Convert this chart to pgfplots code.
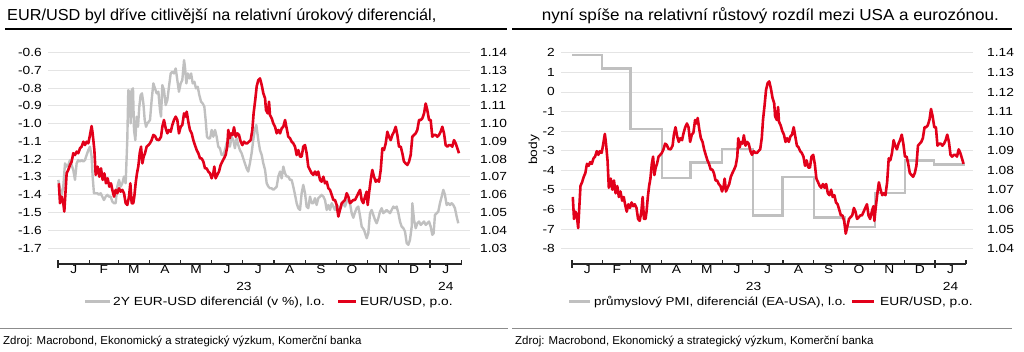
\documentclass[border=0pt]{standalone}
\usepackage{fontspec}
\setmainfont{Liberation Sans}
\newfontfamily\widef[FakeStretch=1.17]{Liberation Sans}
\newfontfamily\titlef[FakeStretch=1.07]{Liberation Sans}
\newfontfamily\titlefl[FakeStretch=1.02]{Liberation Sans}
\usepackage{pgfplots}
\pgfplotsset{compat=1.18}
\usepackage{pgfplotstable}
\definecolor{kbred}{RGB}{226,0,26}
\definecolor{lgray}{RGB}{192,192,192}
\definecolor{gridc}{RGB}{228,228,228}
\definecolor{axc}{RGB}{40,40,40}
\definecolor{footc}{RGB}{140,140,140}
\newcommand{\lblfont}{\widef\fontsize{11.8}{13}\selectfont}

\pgfplotstableread{
day val
0.8 1.0664
2.0 1.0552
3.6 1.0589
5.2 1.0552
6.2 1.0505
8.5 1.0720
10.1 1.0739
11.8 1.0767
13.4 1.0786
15.0 1.0833
16.7 1.0823
18.3 1.0842
19.9 1.0833
21.6 1.0861
23.2 1.0870
24.9 1.0898
26.5 1.0879
28.1 1.0898
29.8 1.0889
31.1 1.0926
33.0 1.0986
34.0 1.0945
35.7 1.0851
37.0 1.0711
38.9 1.0758
40.6 1.0701
42.2 1.0748
43.8 1.0683
45.5 1.0720
47.1 1.0664
48.7 1.0692
50.4 1.0645
52.0 1.0664
53.3 1.0627
55.0 1.0589
56.6 1.0627
58.2 1.0608
59.9 1.0636
61.5 1.0617
63.1 1.0627
64.8 1.0608
66.4 1.0552
68.0 1.0542
69.7 1.0589
71.0 1.0664
72.3 1.0552
73.9 1.0552
74.9 1.0589
76.2 1.0664
77.5 1.0720
78.8 1.0758
80.2 1.0833
81.5 1.0870
82.8 1.0776
84.1 1.0814
85.4 1.0833
87.0 1.0870
88.7 1.0879
90.3 1.0889
91.9 1.0907
93.6 1.0936
95.2 1.0930
96.9 1.0910
99.1 1.0907
101.1 1.0926
102.4 1.0982
104.0 1.1020
105.7 1.0973
107.3 1.0945
108.9 1.0964
110.6 1.0954
112.2 1.0992
113.8 1.1020
115.5 1.1039
117.1 1.1020
118.7 1.0945
120.4 1.0982
122.0 1.0992
123.7 1.1057
125.3 1.1039
126.3 1.1067
127.9 1.1010
129.5 1.0964
131.2 1.0945
132.8 1.0907
134.4 1.0879
136.1 1.0851
137.7 1.0833
139.4 1.0804
141.0 1.0804
142.6 1.0786
144.3 1.0748
145.9 1.0748
147.5 1.0730
149.2 1.0720
150.8 1.0692
152.4 1.0720
153.4 1.0758
154.7 1.0692
156.3 1.0711
158.0 1.0730
159.6 1.0767
161.2 1.0786
162.9 1.0804
164.5 1.0823
166.1 1.0870
167.1 1.0964
168.5 1.0917
169.8 1.0945
171.4 1.0936
172.7 1.0979
174.4 1.0926
176.0 1.0945
177.6 1.0936
179.3 1.0898
180.9 1.0879
182.5 1.0898
184.2 1.0889
185.8 1.0889
187.4 1.0898
189.1 1.0907
190.7 1.0964
192.0 1.1060
193.5 1.1130
195.0 1.1210
196.6 1.1245
198.2 1.1254
199.9 1.1217
201.5 1.1170
203.2 1.1142
204.1 1.1076
205.8 1.1057
207.1 1.1123
208.0 1.1048
209.7 1.1029
211.3 1.1001
213.0 1.0982
214.6 1.0945
216.2 1.0964
217.9 1.0945
219.5 1.0973
221.1 1.0982
222.8 1.1020
224.4 1.0973
226.0 1.0926
227.7 1.0917
229.3 1.0898
230.9 1.0889
232.6 1.0870
234.2 1.0823
235.8 1.0851
237.5 1.0814
239.1 1.0814
240.7 1.0870
242.4 1.0879
244.0 1.0833
245.6 1.0758
247.3 1.0739
249.0 1.0720
250.5 1.0711
252.2 1.0730
253.8 1.0711
255.4 1.0730
257.1 1.0683
258.7 1.0673
260.4 1.0701
262.0 1.0664
263.7 1.0673
265.3 1.0636
266.9 1.0627
268.6 1.0599
270.2 1.0570
271.8 1.0570
273.5 1.0542
275.1 1.0477
276.7 1.0514
278.4 1.0552
280.0 1.0561
281.6 1.0570
283.3 1.0608
284.9 1.0589
286.5 1.0552
288.2 1.0561
289.8 1.0570
291.4 1.0570
293.1 1.0589
294.7 1.0608
296.4 1.0627
298.0 1.0570
299.6 1.0552
301.3 1.0589
302.9 1.0617
303.9 1.0542
305.2 1.0608
306.9 1.0683
308.4 1.0739
310.1 1.0701
311.8 1.0673
313.3 1.0683
315.0 1.0673
316.7 1.0739
318.3 1.0861
319.9 1.0851
321.6 1.0889
323.2 1.0954
324.8 1.0926
326.5 1.0907
328.1 1.0936
329.7 1.0954
331.4 1.0982
333.0 1.0936
334.6 1.0870
336.3 1.0870
337.9 1.0833
339.5 1.0786
341.2 1.0776
342.8 1.0767
344.5 1.0786
346.1 1.0823
347.7 1.0926
349.4 1.0936
351.0 1.0945
352.6 1.0964
354.3 1.1020
355.9 1.1020
357.5 1.1029
359.2 1.1057
360.8 1.1113
362.4 1.1076
364.1 1.1020
365.7 1.1020
367.3 1.0926
369.0 1.0936
370.6 1.0936
372.2 1.0926
373.9 1.0936
375.5 1.0954
377.1 1.0982
378.8 1.0945
380.4 1.0879
382.0 1.0870
383.7 1.0879
385.3 1.0879
386.9 1.0870
388.6 1.0907
390.2 1.0889
391.9 1.0861
393.5 1.0833
}\eurusd

\pgfplotstableread{
day val
0.3 -1.317
2.0 -1.373
3.6 -1.401
5.2 -1.355
6.9 -1.224
8.5 -1.242
10.1 -1.233
11.8 -1.205
13.4 -1.233
15.0 -1.261
16.7 -1.317
18.3 -1.224
19.9 -1.205
21.6 -1.214
23.2 -1.205
24.9 -1.214
26.5 -1.205
28.1 -1.177
29.8 -1.149
31.4 -1.130
33.0 -1.186
34.0 -1.298
35.3 -1.392
37.0 -1.392
38.6 -1.392
40.2 -1.401
41.9 -1.392
43.5 -1.411
45.1 -1.430
46.8 -1.411
48.4 -1.401
50.0 -1.411
51.7 -1.411
53.3 -1.439
55.0 -1.448
56.6 -1.448
58.2 -1.355
59.9 -1.317
61.5 -1.355
63.1 -1.336
64.8 -1.298
66.4 -1.336
68.0 -1.093
69.0 -0.812
70.3 -0.830
71.3 -0.999
72.3 -0.812
73.6 -0.802
74.6 -1.036
75.9 -1.093
77.2 -0.961
78.5 -1.018
79.8 -0.905
81.1 -0.840
82.4 -0.830
83.8 -0.887
85.1 -0.980
86.4 -1.018
87.7 -0.999
89.0 -0.990
90.3 -0.980
91.9 -0.868
93.6 -0.774
95.2 -0.802
96.8 -0.830
98.5 -0.821
100.1 -0.924
101.1 -0.961
102.4 -0.784
104.0 -0.812
105.7 -0.896
107.3 -0.868
108.9 -0.793
110.6 -0.718
112.2 -0.709
113.8 -0.718
115.5 -0.690
117.1 -0.755
118.7 -0.821
120.4 -0.774
122.0 -0.755
123.7 -0.643
124.6 -0.681
126.0 -0.774
127.3 -0.718
128.9 -0.746
130.6 -0.718
132.2 -0.774
133.8 -0.765
135.4 -0.802
137.1 -0.793
138.7 -0.840
140.4 -0.877
142.0 -0.887
143.6 -0.905
144.9 -0.980
146.2 -1.074
147.5 -1.083
149.2 -1.083
150.8 -1.036
152.4 -1.074
154.1 -1.036
155.7 -1.074
157.3 -1.130
158.9 -1.139
160.6 -1.177
162.2 -1.177
163.8 -1.149
165.5 -1.111
167.1 -1.093
168.7 -1.130
170.4 -1.074
172.0 -1.093
173.6 -1.139
175.3 -1.083
176.9 -1.121
178.5 -1.149
180.2 -1.167
181.8 -1.196
183.4 -1.224
185.1 -1.252
186.7 -1.270
188.3 -1.224
190.0 -1.167
191.6 -1.093
193.3 -1.030
194.6 -1.008
196.6 -1.093
198.2 -1.149
199.9 -1.177
201.5 -1.224
203.2 -1.261
204.8 -1.336
206.5 -1.355
208.1 -1.364
209.7 -1.364
211.3 -1.373
213.0 -1.364
214.6 -1.355
216.2 -1.298
217.9 -1.270
219.5 -1.308
221.1 -1.242
222.8 -1.280
224.4 -1.298
226.0 -1.298
227.7 -1.317
229.3 -1.317
230.9 -1.355
232.6 -1.401
234.2 -1.448
235.8 -1.476
237.5 -1.486
239.1 -1.392
240.7 -1.345
242.4 -1.392
244.0 -1.467
245.6 -1.476
247.3 -1.411
249.0 -1.448
250.5 -1.448
252.2 -1.420
253.8 -1.458
255.4 -1.420
257.1 -1.411
258.7 -1.401
260.4 -1.411
262.0 -1.430
263.7 -1.486
265.3 -1.458
266.9 -1.486
268.6 -1.448
270.2 -1.467
271.8 -1.486
273.5 -1.458
275.1 -1.467
276.7 -1.486
278.4 -1.458
280.0 -1.448
281.6 -1.467
283.3 -1.439
284.9 -1.430
286.5 -1.448
288.2 -1.504
289.8 -1.530
291.4 -1.500
293.1 -1.476
294.7 -1.467
296.4 -1.520
298.0 -1.579
300.3 -1.598
302.9 -1.645
304.5 -1.617
306.2 -1.504
307.8 -1.486
309.4 -1.514
311.1 -1.542
312.7 -1.561
314.3 -1.533
316.0 -1.495
317.6 -1.476
319.3 -1.504
320.9 -1.495
322.5 -1.486
324.2 -1.495
325.8 -1.504
327.4 -1.486
329.1 -1.467
330.7 -1.476
332.3 -1.467
334.0 -1.504
335.6 -1.551
337.2 -1.579
338.9 -1.589
340.5 -1.607
342.2 -1.673
343.8 -1.682
345.4 -1.654
347.1 -1.579
347.7 -1.448
349.4 -1.542
351.0 -1.589
352.6 -1.561
354.3 -1.551
355.9 -1.570
357.5 -1.561
359.2 -1.551
360.8 -1.570
362.4 -1.561
364.1 -1.551
365.7 -1.579
367.3 -1.626
368.6 -1.617
369.9 -1.514
371.6 -1.504
373.2 -1.495
374.8 -1.448
376.5 -1.411
378.1 -1.373
379.7 -1.401
381.4 -1.458
383.0 -1.448
384.6 -1.458
386.3 -1.448
387.9 -1.458
389.5 -1.476
391.2 -1.523
392.8 -1.561
}\diffii

\pgfplotstableread{
day val
0 1.9
30.2 1.2
58.6 -1.9
90.5 -4.4
118.9 -3.6
150.8 -2.9
181.6 -6.3
211.7 -4.35
243.2 -6.4
274.4 -6.9
304.5 -5.15
334.7 -3.5
363.8 -3.7
395 -3.7
}\pmi

\pgfplotsset{
  base/.style={
    scale only axis, anchor=south west,
    axis line style={draw=none}, tick style={draw=none},
    major tick length=0pt, minor tick length=0pt,
    tick label style={font=\lblfont, text=black},
  },
  months/.style={
    xtick={15.5,45,74.5,105,135.5,166,196.5,227.5,258,288.5,319,349.5,380.5},
    xticklabels={J,F,M,A,M,J,J,A,S,O,N,D,J},
    xticklabel style={anchor=base, yshift=-9.5bp, inner sep=0pt},
    extra x ticks={182.5,380.5},
    extra x tick labels={23,24},
    extra x tick style={xticklabel style={yshift=-17bp}, grid=none},
  },
}

\begin{document}
\begin{tikzpicture}
\useasboundingbox (0,0) rectangle (1024bp,352bp);

% ---- titles and rules ----
\node[anchor=base west, inner sep=0pt, font=\titlefl\fontsize{16}{18}\selectfont] at (7bp,331.3bp) {EUR/USD byl dříve citlivější na relativní úrokový diferenciál,};
\node[anchor=base east, inner sep=0pt, font=\titlef\fontsize{16}{18}\selectfont] at (999bp,331.3bp) {nyní spíše na relativní růstový rozdíl mezi USA a eurozónou.};
\draw[black, line width=2.4bp] (5bp,322.7bp) -- (507bp,322.7bp);
\draw[black, line width=2.4bp] (512bp,322.7bp) -- (1012bp,322.7bp);

% ---- footers ----
\draw[footc, line width=1.5bp] (0bp,23.3bp) -- (508bp,23.3bp);
\draw[footc, line width=1.5bp] (512bp,23.3bp) -- (1012bp,23.3bp);
\node[anchor=base west, inner sep=0pt, font=\fontsize{11.5}{13}\selectfont] at (3bp,7.5bp) {Zdroj: Macrobond, Ekonomický a strategický výzkum, Komerční banka};
\node[anchor=base west, inner sep=0pt, font=\fontsize{11.5}{13}\selectfont] at (515bp,7.5bp) {Zdroj: Macrobond, Ekonomický a strategický výzkum, Komerční banka};

% ================= LEFT CHART =================
\begin{axis}[base, months, at={(48bp,88bp)}, width=422bp, height=215.1bp,
  xmin=-9.8, xmax=404.3, ymin=-1.79, ymax=-0.58,
  ytick={-1.7,-1.6,-1.5,-1.4,-1.3,-1.2,-1.1,-1.0,-0.9,-0.8,-0.7,-0.6},
  yticklabels={-1.7,-1.6,-1.5,-1.4,-1.3,-1.2,-1.1,-1.0,-0.9,-0.8,-0.7,-0.6},
  yticklabel style={anchor=east, inner sep=0pt, xshift=-6bp},
  ymajorgrids, grid style={gridc, line width=0.9bp},
  clip=false]
  \addplot[lgray, line width=2.4bp, line join=round] table[x=day,y=val] {\diffii};
  \draw[axc, line width=1.3bp] (axis cs:0,-1.79) -- (axis cs:396,-1.79);
  \pgfplotsinvokeforeach{31,59,90,120,151,181,212,243,273,304,334,396}{
    \draw[axc, line width=1.2bp] (axis cs:#1,-1.79) -- ++(0bp,3.5bp);
  }
  \pgfplotsinvokeforeach{0,365}{
    \draw[axc, line width=1.4bp] (axis cs:#1,-1.79) ++(0bp,3.5bp) -- ++(0bp,-8bp);
  }
\end{axis}
\begin{axis}[base, at={(48bp,88bp)}, width=422bp, height=215.1bp,
  xmin=-9.8, xmax=404.3, ymin=1.021, ymax=1.142, xtick=\empty,
  ytick={1.03,1.04,1.05,1.06,1.07,1.08,1.09,1.10,1.11,1.12,1.13,1.14},
  yticklabels={1.03,1.04,1.05,1.06,1.07,1.08,1.09,1.10,1.11,1.12,1.13,1.14},
  yticklabel pos=right,
  yticklabel style={anchor=west, inner sep=0pt, xshift=10bp}]
  \addplot[kbred, line width=2.6bp, line join=round] table[x=day,y=val] {\eurusd};
\end{axis}

% left legend
\draw[lgray, line width=3.5bp] (85bp,50.3bp) -- (110bp,50.3bp);
\node[anchor=base west, inner sep=0pt, font=\lblfont] at (113bp,46.5bp) {2Y EUR-USD diferenciál (v \%), l.o.};
\draw[kbred, line width=3.5bp] (338bp,50.3bp) -- (356bp,50.3bp);
\node[anchor=base west, inner sep=0pt, font=\lblfont] at (360bp,46.5bp) {EUR/USD, p.o.};

% ================= RIGHT CHART =================
\begin{axis}[base, months, at={(561bp,88bp)}, width=412bp, height=213.2bp,
  xmin=-11.06, xmax=403.0, ymin=-8.78, ymax=2.1,
  ytick={-8,-7,-6,-5,-4,-3,-2,-1,0,1,2},
  yticklabels={-8,-7,-6,-5,-4,-3,-2,-1,0,1,2},
  yticklabel style={anchor=east, inner sep=0pt, xshift=-6bp},
  ymajorgrids, grid style={gridc, line width=0.9bp},
  clip=false]
  \addplot[lgray, line width=2.4bp, const plot] table[x=day,y=val] {\pmi};
  \draw[axc, line width=1.3bp] (axis cs:0,-8.78) -- (axis cs:396,-8.78);
  \pgfplotsinvokeforeach{31,59,90,120,151,181,212,243,273,304,334,396}{
    \draw[axc, line width=1.2bp] (axis cs:#1,-8.78) -- ++(0bp,3.5bp);
  }
  \pgfplotsinvokeforeach{0,365}{
    \draw[axc, line width=1.4bp] (axis cs:#1,-8.78) ++(0bp,3.5bp) -- ++(0bp,-8bp);
  }
\end{axis}
\begin{axis}[base, at={(561bp,88bp)}, width=412bp, height=213.2bp,
  xmin=-11.06, xmax=403.0, ymin=1.0322, ymax=1.141, xtick=\empty,
  ytick={1.04,1.05,1.06,1.07,1.08,1.09,1.10,1.11,1.12,1.13,1.14},
  yticklabels={1.04,1.05,1.06,1.07,1.08,1.09,1.10,1.11,1.12,1.13,1.14},
  yticklabel pos=right,
  yticklabel style={anchor=west, inner sep=0pt, xshift=14bp}]
  \addplot[kbred, line width=2.6bp, line join=round] table[x=day,y=val] {\eurusd};
\end{axis}

\node[rotate=90, inner sep=0pt, font=\lblfont] at (534bp,202bp) {body};

% right legend
\draw[lgray, line width=3.5bp] (569bp,50.3bp) -- (590bp,50.3bp);
\node[anchor=base west, inner sep=0pt, font=\widef\fontsize{11.5}{13}\selectfont] at (594bp,46.5bp) {průmyslový PMI, diferenciál (EA-USA), l.o.};
\draw[kbred, line width=3.5bp] (852bp,50.3bp) -- (874bp,50.3bp);
\node[anchor=base west, inner sep=0pt, font=\lblfont] at (880bp,46.5bp) {EUR/USD, p.o.};
\end{tikzpicture}
\end{document}
